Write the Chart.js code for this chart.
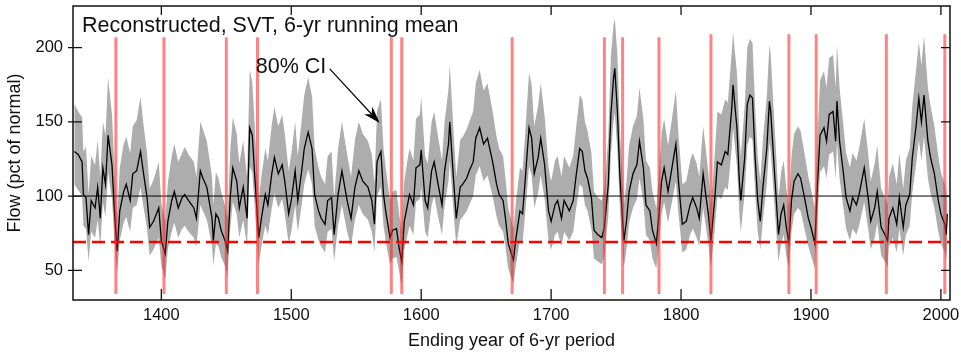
<!DOCTYPE html>
<html>
<head>
<meta charset="utf-8">
<script src="https://cdn.jsdelivr.net/npm/chart.js@4.4.1/dist/chart.umd.min.js"></script>
<style>
  html, body { margin: 0; padding: 0; background: #fff; }
</style>
</head>
<body>
<canvas id="flowChart" width="961" height="352"></canvas>
<script>
// Ending year of each 6-yr period (sampled off the figure)
const years = [
  1333, 1336, 1339, 1340, 1342, 1344, 1346, 1349, 1351, 1353, 1355, 1357, 1359, 1362, 1364, 1366, 1368, 1371, 1373, 1376,
  1378, 1381, 1384, 1386, 1389, 1391, 1394, 1398, 1400, 1403, 1405, 1408, 1410, 1413, 1416, 1418, 1421, 1425, 1427, 1430,
  1432, 1435, 1439, 1440, 1442, 1444, 1446, 1449, 1451, 1453, 1455, 1458, 1460, 1463, 1466, 1468, 1470, 1472, 1475, 1477,
  1480, 1482, 1485, 1487, 1490, 1493, 1495, 1498, 1500, 1503, 1505, 1508, 1510, 1513, 1516, 1518, 1521, 1523, 1526, 1528,
  1531, 1533, 1536, 1539, 1543, 1546, 1549, 1552, 1555, 1559, 1562, 1564, 1566, 1568, 1569, 1571, 1573, 1576, 1578, 1581,
  1583, 1585, 1587, 1589, 1591, 1594, 1596, 1599, 1600, 1603, 1605, 1608, 1610, 1613, 1616, 1618, 1621, 1622, 1625, 1627,
  1630, 1632, 1635, 1637, 1640, 1642, 1645, 1648, 1651, 1655, 1658, 1660, 1663, 1665, 1667, 1671, 1673, 1676, 1678, 1680,
  1683, 1685, 1687, 1690, 1692, 1695, 1698, 1700, 1703, 1705, 1708, 1710, 1714, 1717, 1719, 1722, 1724, 1726, 1728, 1731,
  1733, 1736, 1739, 1741, 1744, 1746, 1748, 1749, 1751, 1753, 1756, 1758, 1760, 1763, 1766, 1768, 1771, 1773, 1776, 1778,
  1781, 1783, 1785, 1787, 1790, 1793, 1796, 1798, 1801, 1804, 1807, 1809, 1812, 1814, 1817, 1819, 1821, 1823, 1826, 1828,
  1831, 1834, 1836, 1839, 1840, 1843, 1845, 1846, 1849, 1851, 1853, 1855, 1857, 1859, 1861, 1863, 1866, 1868, 1869, 1872,
  1875, 1877, 1879, 1881, 1883, 1885, 1887, 1890, 1892, 1895, 1898, 1900, 1903, 1905, 1907, 1910, 1912, 1914, 1917, 1919,
  1920, 1922, 1925, 1927, 1930, 1932, 1935, 1937, 1941, 1944, 1946, 1949, 1951, 1954, 1957, 1959, 1960, 1963, 1966, 1968,
  1971, 1973, 1976, 1978, 1981, 1983, 1985, 1987, 1990, 1992, 1995, 1998, 2000, 2003, 2004, 2005
];

// Reconstructed flow, 6-yr running mean (pct of normal)
const flow = [
  130, 128, 123, 101, 99, 74, 97, 92, 106, 85, 119, 108, 141, 121, 88, 63, 90, 103, 108, 97,
  115, 117, 130, 117, 99, 79, 83, 92, 70, 61, 83, 97, 103, 92, 99, 101, 97, 92, 85, 117,
  112, 106, 85, 70, 88, 85, 77, 70, 63, 99, 119, 110, 92, 106, 85, 146, 141, 112, 72, 85,
  101, 94, 115, 126, 115, 121, 110, 88, 97, 117, 97, 117, 132, 143, 132, 101, 90, 85, 81, 97,
  99, 74, 101, 117, 97, 85, 106, 117, 110, 106, 97, 81, 123, 128, 130, 101, 88, 72, 77, 78,
  65, 56, 83, 92, 101, 94, 119, 121, 131, 97, 92, 117, 123, 108, 94, 117, 135, 150, 110, 85,
  106, 108, 112, 117, 123, 139, 146, 135, 139, 123, 108, 101, 97, 84, 68, 57, 72, 90, 88, 110,
  146, 139, 115, 126, 139, 121, 90, 83, 94, 97, 85, 97, 90, 97, 112, 132, 130, 117, 112, 99,
  77, 74, 72, 79, 108, 155, 179, 186, 157, 112, 70, 83, 103, 115, 121, 137, 119, 94, 90, 77,
  68, 88, 110, 119, 103, 119, 135, 110, 81, 83, 94, 99, 92, 85, 115, 101, 88, 70, 99, 123,
  121, 130, 128, 159, 175, 146, 108, 97, 126, 162, 168, 166, 126, 97, 83, 106, 132, 164, 157, 115,
  74, 88, 94, 79, 69, 97, 110, 115, 112, 99, 85, 79, 68, 108, 141, 146, 137, 155, 157, 137,
  164, 137, 115, 99, 90, 99, 94, 101, 119, 99, 83, 92, 103, 79, 74, 70, 85, 92, 81, 99,
  79, 94, 101, 126, 148, 166, 150, 168, 137, 126, 115, 97, 88, 81, 74, 88
];

// 80% confidence interval, upper and lower edges
const ciHigh = [
  162, 157, 153, 130, 133, 101, 127, 121, 138, 113, 150, 141, 180, 155, 117, 85, 119, 135, 140, 129,
  147, 151, 167, 150, 129, 105, 111, 123, 95, 83, 109, 127, 135, 123, 129, 133, 128, 123, 113, 150,
  145, 137, 113, 94, 116, 112, 103, 94, 85, 130, 153, 142, 122, 137, 113, 185, 177, 145, 97, 113,
  132, 124, 148, 160, 147, 155, 142, 117, 128, 150, 127, 151, 168, 180, 167, 132, 119, 113, 108, 127,
  130, 99, 132, 150, 128, 113, 138, 150, 142, 137, 128, 108, 157, 163, 165, 132, 117, 97, 103, 104,
  88, 77, 110, 122, 132, 124, 152, 155, 167, 127, 122, 150, 157, 140, 124, 150, 172, 189, 142, 113,
  138, 140, 145, 150, 157, 176, 185, 171, 176, 157, 140, 132, 127, 111, 92, 78, 97, 119, 117, 142,
  183, 175, 147, 161, 176, 154, 119, 110, 124, 127, 113, 127, 119, 127, 144, 168, 165, 150, 144, 129,
  103, 99, 97, 105, 140, 194, 215, 220, 195, 144, 94, 110, 134, 147, 154, 173, 152, 124, 119, 103,
  92, 116, 142, 152, 134, 152, 171, 142, 108, 110, 124, 129, 122, 113, 147, 132, 116, 94, 129, 157,
  155, 165, 163, 197, 210, 183, 140, 127, 161, 200, 206, 203, 160, 127, 110, 138, 167, 202, 195, 147,
  99, 116, 124, 105, 93, 127, 142, 147, 144, 129, 113, 105, 92, 140, 178, 184, 173, 193, 195, 173,
  202, 173, 147, 129, 119, 129, 124, 132, 152, 129, 110, 122, 134, 105, 99, 94, 113, 122, 108, 129,
  105, 124, 132, 161, 186, 204, 188, 208, 173, 161, 147, 127, 116, 108, 99, 116
];
const ciLow = [
  108, 104, 100, 80, 78, 56, 76, 72, 84, 66, 96, 86, 116, 98, 68, 48, 70, 82, 86, 76,
  92, 94, 106, 94, 78, 60, 64, 72, 53, 44, 64, 76, 82, 72, 78, 80, 76, 72, 66, 94,
  90, 84, 66, 53, 68, 66, 59, 53, 46, 78, 96, 88, 72, 84, 66, 120, 116, 90, 54, 66,
  80, 74, 92, 102, 92, 98, 88, 68, 76, 94, 76, 94, 108, 118, 108, 80, 70, 66, 62, 76,
  78, 56, 80, 94, 76, 66, 84, 94, 88, 84, 76, 62, 100, 104, 106, 80, 68, 54, 58, 59,
  49, 40, 64, 72, 80, 74, 96, 98, 106, 76, 72, 94, 100, 86, 74, 94, 110, 124, 88, 66,
  84, 86, 90, 94, 100, 114, 120, 110, 114, 100, 86, 80, 76, 65, 51, 41, 54, 70, 68, 88,
  120, 114, 92, 102, 114, 98, 70, 64, 74, 76, 66, 76, 70, 76, 90, 108, 106, 94, 90, 78,
  58, 56, 54, 60, 86, 128, 150, 156, 130, 90, 52, 64, 82, 92, 98, 112, 96, 74, 70, 58,
  51, 68, 88, 96, 82, 96, 110, 88, 62, 64, 74, 78, 72, 66, 92, 80, 68, 52, 78, 100,
  98, 106, 104, 132, 146, 120, 86, 76, 102, 134, 140, 138, 102, 76, 64, 84, 108, 136, 130, 92,
  56, 68, 74, 60, 52, 76, 88, 92, 90, 78, 66, 60, 51, 86, 116, 120, 112, 128, 130, 112,
  136, 112, 92, 78, 70, 78, 74, 80, 96, 78, 64, 72, 82, 60, 56, 52, 66, 72, 62, 78,
  60, 74, 80, 102, 122, 138, 124, 140, 112, 102, 92, 76, 68, 62, 56, 68
];

// Drought years marked with red bars, and where each bar tops out
const droughtYears = [1365, 1402, 1450, 1474, 1577, 1585, 1670, 1741, 1755, 1783, 1823, 1883, 1904, 1958, 2003];
const droughtTop = [207, 207, 207, 207, 207, 207, 207, 207, 207, 207, 209, 209, 209, 209, 209];
const droughtBottom = 34;

const normalLevel = 100;
const droughtThreshold = 69;

const xTicks = [1400, 1500, 1600, 1700, 1800, 1900, 2000];
const yTicks = [50, 100, 150, 200];
const xRange = [1332, 2007];
const yRange = [30, 228];

const FONT = '"Liberation Sans", Arial, sans-serif';

const toPoints = (vals) => years.map((yr, i) => ({ x: yr, y: vals[i] }));

// red vertical bars, one dataset per drought year
const droughtSets = droughtYears.map((yr, i) => ({
    data: [{ x: yr, y: droughtBottom }, { x: yr, y: droughtTop[i] }],
    borderColor: 'rgba(255, 30, 30, 0.55)',
    borderWidth: 3,
    pointRadius: 0,
    fill: false,
    order: 0
}));

const datasets = [
    {   // CI upper edge, filled down to the lower edge
        data: toPoints(ciHigh),
        borderWidth: 0,
        borderColor: 'rgba(0,0,0,0)',
        backgroundColor: '#adadad',
        pointRadius: 0,
        fill: '+1',
        order: 5
    },
    {
        data: toPoints(ciLow),
        borderWidth: 0,
        borderColor: 'rgba(0,0,0,0)',
        pointRadius: 0,
        fill: false,
        order: 6
    },
    {   // running mean
        data: toPoints(flow),
        borderColor: '#000',
        borderWidth: 1.3,
        pointRadius: 0,
        fill: false,
        order: 3
    },
    {   // normal (100 %)
        data: [{ x: xRange[0], y: normalLevel }, { x: xRange[1], y: normalLevel }],
        borderColor: '#000',
        borderWidth: 1,
        pointRadius: 0,
        fill: false,
        order: 2
    },
    {   // drought threshold
        data: [{ x: xRange[0], y: droughtThreshold }, { x: xRange[1], y: droughtThreshold }],
        borderColor: '#ff0000',
        borderWidth: 2.5,
        borderDash: [13, 6],
        pointRadius: 0,
        fill: false,
        order: 1
    },
    ...droughtSets
];

// frame, inward ticks and the text annotations
const framePlugin = {
    id: 'frame',
    afterDraw(chart) {
        const { ctx, chartArea: a, scales } = chart;
        const xs = scales.x, ys = scales.y;
        ctx.save();
        ctx.strokeStyle = '#111';
        ctx.lineWidth = 1.5;
        ctx.strokeRect(a.left, a.top, a.right - a.left, a.bottom - a.top);

        ctx.lineWidth = 1.3;
        ctx.beginPath();
        xTicks.forEach(v => {
            const px = xs.getPixelForValue(v);
            ctx.moveTo(px, a.bottom);
            ctx.lineTo(px, a.bottom - 11);
            ctx.moveTo(px, a.top);
            ctx.lineTo(px, a.top + 9);
        });
        yTicks.forEach(v => {
            const py = ys.getPixelForValue(v);
            ctx.moveTo(a.left - 5, py);
            ctx.lineTo(a.left + 9, py);
            ctx.moveTo(a.right, py);
            ctx.lineTo(a.right - 9, py);
        });
        ctx.stroke();

        // title inside the plot
        ctx.fillStyle = '#111';
        ctx.font = '21.5px ' + FONT;
        ctx.textBaseline = 'alphabetic';
        ctx.textAlign = 'left';
        ctx.fillText('Reconstructed, SVT, 6-yr running mean', a.left + 9, a.top + 25.7);

        // "80% CI" with arrow pointing at the band
        ctx.fillText('80% CI', xs.getPixelForValue(1472.7), ys.getPixelForValue(183));

        const x0 = xs.getPixelForValue(1529.6), y0 = ys.getPixelForValue(185.6);
        const x1 = xs.getPixelForValue(1568.1), y1 = ys.getPixelForValue(149.2);
        const ang = Math.atan2(y1 - y0, x1 - x0);
        const headLen = 17, headW = 5.5;
        ctx.strokeStyle = '#000';
        ctx.lineWidth = 1.2;
        ctx.beginPath();
        ctx.moveTo(x0, y0);
        ctx.lineTo(x1 - Math.cos(ang) * headLen * 0.7, y1 - Math.sin(ang) * headLen * 0.7);
        ctx.stroke();
        ctx.fillStyle = '#000';
        ctx.beginPath();
        ctx.moveTo(x1, y1);
        ctx.lineTo(x1 - Math.cos(ang) * headLen - Math.sin(ang) * headW,
                   y1 - Math.sin(ang) * headLen + Math.cos(ang) * headW);
        ctx.lineTo(x1 - Math.cos(ang) * headLen * 0.7, y1 - Math.sin(ang) * headLen * 0.7);
        ctx.lineTo(x1 - Math.cos(ang) * headLen + Math.sin(ang) * headW,
                   y1 - Math.sin(ang) * headLen - Math.cos(ang) * headW);
        ctx.closePath();
        ctx.fill();
        ctx.restore();
    }
};

const ctx = document.getElementById('flowChart').getContext('2d');
new Chart(ctx, {
    type: 'line',
    data: { datasets: datasets },
    plugins: [framePlugin],
    options: {
        responsive: false,
        animation: false,
        devicePixelRatio: 1,
        layout: { padding: { top: 6, right: 11, bottom: 0, left: 0 } },
        plugins: {
            legend: { display: false },
            tooltip: { enabled: false }
        },
        elements: { line: { tension: 0 } },
        scales: {
            x: {
                type: 'linear',
                position: 'bottom',
                min: xRange[0],
                max: xRange[1],
                afterBuildTicks: s => { s.ticks = xTicks.map(v => ({ value: v })); },
                afterFit: s => {
                    s.height = 52;
                    s.paddingLeft = 0;   // labels may overhang, the frame stays put
                    s.paddingRight = 0;
                },
                grid: { display: false, drawTicks: false },
                border: { display: false },
                ticks: {
                    padding: 6,
                    color: '#111',
                    font: { family: FONT, size: 16.5 },
                    callback: v => String(v)
                },
                title: {
                    display: true,
                    text: 'Ending year of 6-yr period',
                    color: '#111',
                    font: { family: FONT, size: 18 },
                    padding: { top: 0, bottom: 0 }
                }
            },
            y: {
                type: 'linear',
                min: yRange[0],
                max: yRange[1],
                afterBuildTicks: s => { s.ticks = yTicks.map(v => ({ value: v })); },
                afterFit: s => {
                    s.width = 73;
                    s.paddingTop = 0;
                    s.paddingBottom = 0;
                },
                grid: { display: false, drawTicks: false },
                border: { display: false },
                ticks: {
                    padding: 10,
                    color: '#111',
                    font: { family: FONT, size: 16.5 },
                    callback: v => String(v)
                },
                title: {
                    display: true,
                    text: 'Flow (pct of normal)',
                    color: '#111',
                    font: { family: FONT, size: 18 },
                    padding: { top: 4, bottom: 0 }
                }
            }
        }
    }
});
</script>
</body>
</html>
